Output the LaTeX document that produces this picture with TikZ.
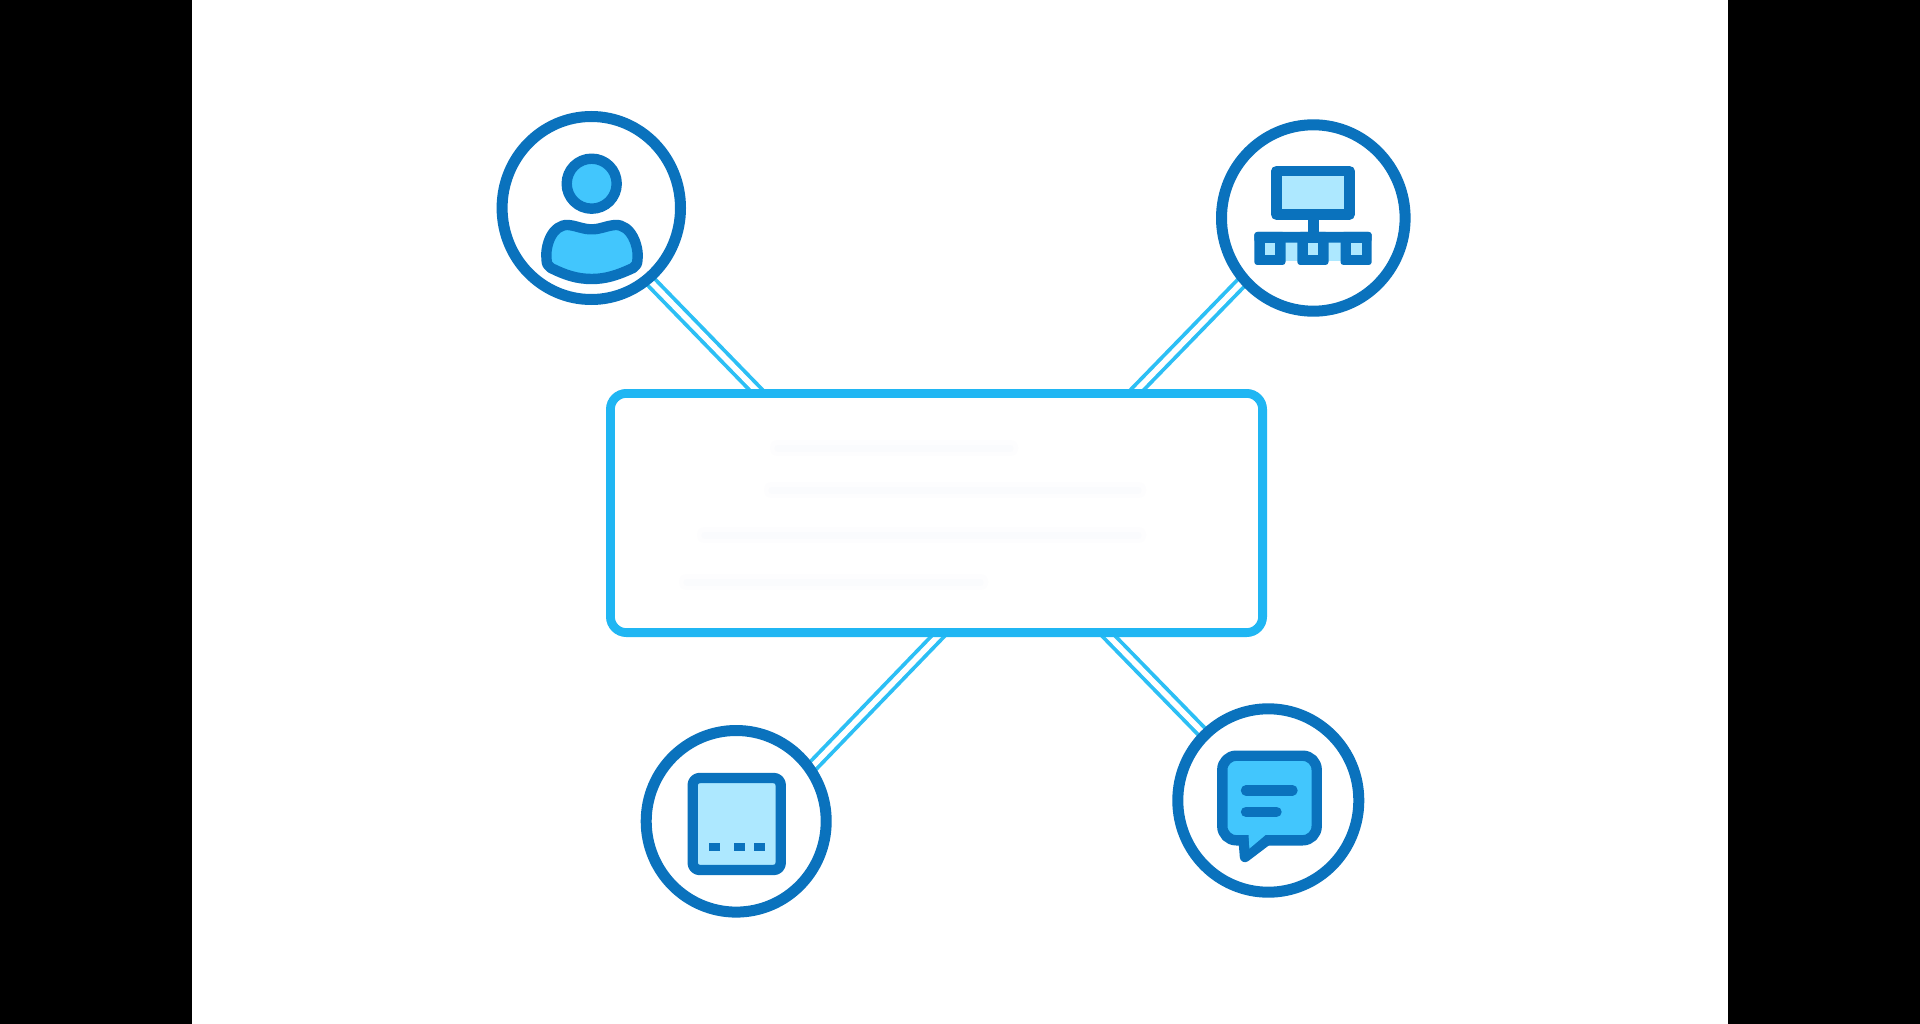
\documentclass[tikz,border=0pt]{standalone}
\usepackage{amsmath, amsfonts, amssymb, amsthm}
\usetikzlibrary{backgrounds}
\usetikzlibrary{shapes.geometric}

\definecolor{ringblue}{HTML}{0A72BD}
\definecolor{hubblue}{HTML}{20B6F3}
\definecolor{pipeblue}{HTML}{2CBFF5}
\definecolor{skyfill}{HTML}{42C6FD}
\definecolor{palefill}{HTML}{ADE8FF}
\definecolor{smudgeouter}{HTML}{FDFDFE}
\definecolor{smudgeinner}{HTML}{FAFBFD}

\tikzset{
    ring/.style={draw=ringblue, line width=11pt, ellipse, fill=white, inner sep=0pt},
    hub/.style={draw=hubblue, line width=8.8pt, rounded corners=16pt, fill=white, inner sep=0pt,
        minimum width=652.2pt, minimum height=239.2pt},
    pipe/.style={draw=pipeblue, line width=3.8pt, double=white, double distance=5.6pt, shorten <=-5pt},
    glyph/.style={draw=ringblue, line width=10.4pt, line join=round},
    smudge/.style={draw=smudgeouter, line width=16pt, line cap=round,
        postaction={draw=smudgeinner, line width=7pt}},
}

\begin{document}
\begin{tikzpicture}[x=1pt, y=-1pt]
        \useasboundingbox (0,0) rectangle (1920,1024);
        \begin{scope}[on background layer]
            \fill[white] (0,0) rectangle (1920,1024);
            \fill[black] (0,0) rectangle (192,1024);
            \fill[black] (1728,0) rectangle (1920,1024);
        \end{scope}

        \node[hub] (panel) at (936.5,513) {};
        \node[ring, minimum width=178.4pt, minimum height=183pt] (user) at (591.3,208) {};
        \node[ring, minimum width=183.6pt, minimum height=186.4pt] (network) at (1313.3,218) {};
        \node[ring, minimum width=180pt, minimum height=181.6pt] (tablet) at (736.2,821.3) {};
        \node[ring, minimum width=181pt, minimum height=183.4pt] (chat) at (1268.3,800.5) {};

        \coordinate (panelNW) at (759.5,393.5);
        \coordinate (panelNE) at (1133.6,393.5);
        \coordinate (panelSW) at (941.5,632.5);
        \coordinate (panelSE) at (1105.2,632.5);

        \begin{scope}[on background layer]
            \draw[pipe] (user.-51) -- (panelNW);
            \draw[pipe] (network.-138) -- (panelNE);
            \draw[pipe] (tablet.36) -- (panelSW);
            \draw[pipe] (chat.134) -- (panelSE);
        \end{scope}

        % blurred lines inside the panel
        \draw[smudge] (778,448) -- (1010,448);
        \draw[smudge] (772,490) -- (1138,490);
        \draw[smudge] (705,535) -- (1138,535);
        \draw[smudge] (687,582) -- (980,582);

        % user
        \draw[glyph, fill=skyfill] (591.7,183.7) circle (25);
        \draw[glyph, fill=skyfill] (546.5,259) .. controls (545,246) and (552,224) .. (568.3,225)
            .. controls (578,226) and (582,229.3) .. (591.7,229.3)
            .. controls (601,229.3) and (605,226) .. (615,225)
            .. controls (631,224) and (639,246) .. (637.5,259)
            .. controls (637.5,264) and (636,266) .. (633,268)
            .. controls (618,275) and (606,279) .. (591.7,279)
            .. controls (577,279) and (565,275) .. (551,268)
            .. controls (548,266) and (546.5,264) .. (546.5,259) -- cycle;

        % network
        \draw[glyph, fill=palefill] (1276.3,171) rectangle (1349.3,214.7);
        \draw[glyph] (1313.3,220) -- (1313.3,233);
        \fill[palefill] (1285,242) rectangle (1342,261);
        \fill[ringblue, rounded corners=3pt] (1254.3,232) rectangle (1371.7,242.7);
        \foreach \x in {1254.3,1297.3,1340.5} {
            \fill[ringblue, rounded corners=3pt] (\x,232) rectangle (\x+31.2,265);
            \fill[palefill] (\x+10.7,242.7) rectangle (\x+21,255);
        }

        % tablet
        \draw[glyph, fill=palefill, rounded corners=7pt] (692.7,778) rectangle (780.7,870);
        \foreach \x in {709.3,734,754.3} {
            \fill[ringblue] (\x,843) rectangle (\x+11,850.7);
        }

        % chat
        \draw[glyph, fill=skyfill, rounded corners=14pt] (1222.3,755.7) rectangle (1316.7,840.3);
        \draw[glyph, fill=skyfill] (1243.5,838) -- (1245,857) -- (1267,840.3);
        \fill[skyfill] (1248.5,834.6) -- (1249.5,848.5) -- (1266,834.6) -- cycle;
        \draw[glyph, line cap=round] (1246,790.3) -- (1292.5,790.3);
        \draw[glyph, line cap=round] (1246,811.8) -- (1276.5,811.8);
\end{tikzpicture}
\end{document}
